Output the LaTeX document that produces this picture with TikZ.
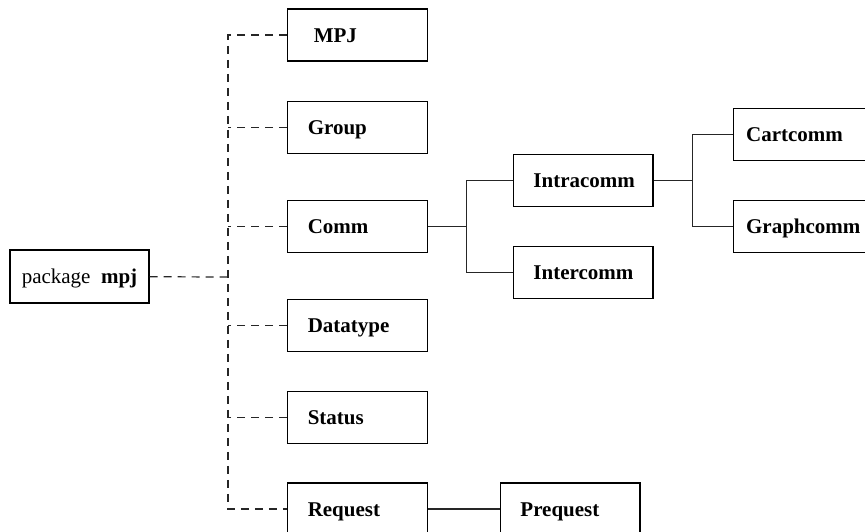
\documentclass[tikz,border=0pt]{standalone}
\usepackage{fontspec}
\setmainfont{Liberation Serif}
\usetikzlibrary{positioning}
\hyphenpenalty=10000
\tikzstyle{classbox} = [rectangle, draw, black, line width=1.2pt, minimum width=139.5pt, minimum height=52pt, inner xsep=20pt, text width=99.5pt, align=left, text height=15pt, text depth=1pt, font=\fontsize{21}{25}\selectfont\bfseries]
\tikzstyle{pkgbox} = [rectangle, draw, black, line width=1.2pt, minimum width=139pt, minimum height=53pt, inner xsep=0pt, text height=15pt, text depth=1pt, font=\fontsize{21}{25}\selectfont]
\tikzstyle{link} = [draw, black!85, line width=1.2pt]
\tikzstyle{dashlink} = [link, dash pattern=on 8pt off 6pt]

\begin{document}
\begin{tikzpicture}[x=1pt, y=-1pt, node distance=39pt]
  \useasboundingbox (0,0) rectangle (865,531);
  \clip (0,0) rectangle (865,531);
  \node[pkgbox] (pkg) at (79.5,276.5) {package\ \ \textbf{mpj}};
  \node[classbox, inner xsep=26pt, text width=87.5pt] (mpj) at (357.5,35) {MPJ};
  \node[classbox] (group) [below=of mpj] {Group};
  \node[classbox] (comm) [below=46pt of group] {Comm};
  \node[classbox] (datatype) [below=46pt of comm] {Datatype};
  \node[classbox] (status) [below=of datatype] {Status};
  \node[classbox] (request) [below=38pt of status] {Request};
  \node[classbox] (prequest) [right=72pt of request] {Prequest};
  \node[classbox] (intra) [right=85pt of comm, yshift=46pt] {Intracomm};
  \node[classbox] (inter) [below=of intra] {Intercomm};
  \node[classbox, inner xsep=13pt, text width=113.5pt] (cart) [right=79pt of intra, yshift=46pt] {Cartcomm};
  \node[classbox, inner xsep=13pt, text width=113.5pt] (graph) [below=of cart] {Graphcomm};
  % dashed tree from the package
  \coordinate (hub) at (228,277);
  \draw[dashlink] (pkg) -- (hub);
  \draw[dashlink] (mpj.west) -| (request.west -| hub) -- (request.west);
  \foreach \n in {group, comm, datatype, status}
    \draw[dashlink] (\n.west) -- (\n.west -| hub);
  % solid subclass links
  \coordinate[right=39pt of comm] (commfork);
  \draw[link] (comm) -- (commfork);
  \draw[link] (intra.west) -| (commfork) |- (inter.west);
  \coordinate[right=39pt of intra] (intrafork);
  \draw[link] (intra) -- (intrafork);
  \draw[link] (cart.west) -| (intrafork) |- (graph.west);
  \draw[link] (request) -- (prequest);
\end{tikzpicture}
\end{document}
